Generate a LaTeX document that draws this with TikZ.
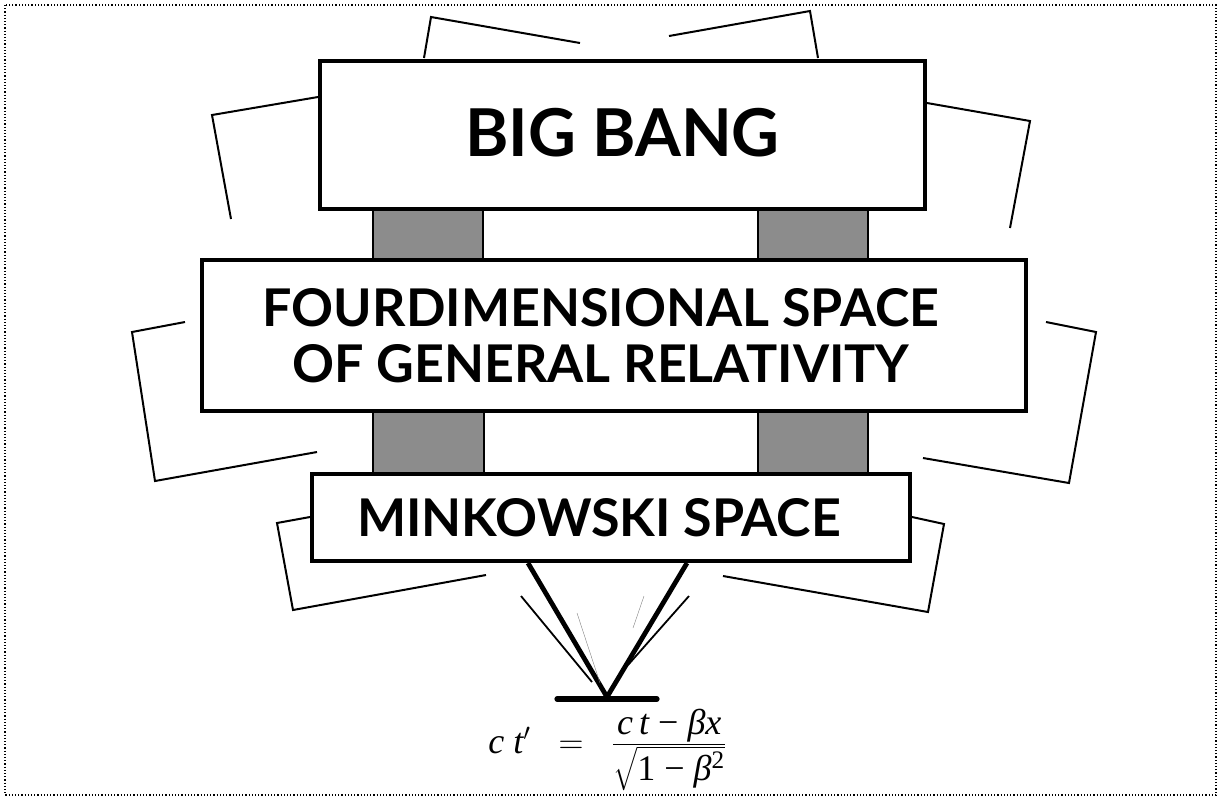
\documentclass[tikz,border=0pt]{standalone}
\usepackage{fontspec}
\usepackage{amsmath}
\setmainfont{Lato}
\newfontfamily\formulafont{Liberation Serif}
\usetikzlibrary{positioning,calc}
\definecolor{pillargray}{HTML}{8C8C8C}

\begin{document}
\begin{tikzpicture}[x=0.5pt,y=-0.5pt,
  signbox/.style={draw,line width=2pt,fill=white,inner sep=0pt,align=center},
  pillar/.style={draw,line width=0.7pt,fill=pillargray},
  panel/.style={line width=1pt},
  leg/.style={line width=2.4pt},
  strut/.style={line width=0.9pt},
  hair/.style={line width=0.2pt,gray}]
\useasboundingbox (0,0) rectangle (1221,800);
\draw[densely dotted,line width=0.6pt] (5,5) rectangle (1216,795);
% tilted panels behind the signs
\draw[panel] (580,43) -- (431,17) -- (424,58);
\draw[panel] (669,36) -- (810,11) -- (818,58);
\draw[panel] (318,97) -- (212,115) -- (231,219);
\draw[panel] (927,103) -- (1030,121) -- (1010,228);
\draw[panel] (185,322) -- (132,332) -- (155,481) -- (317,452);
\draw[panel] (1046,322) -- (1096,332) -- (1069,483) -- (923,458);
\draw[panel] (310,517) -- (277,523) -- (293,610) -- (486,575);
\draw[panel] (912,517) -- (944,524) -- (928,612) -- (723,576);
% posts
\draw[pillar] (373,205) rectangle (483,264);
\draw[pillar] (758,205) rectangle (868,264);
\draw[pillar] (373,405) rectangle (484,478);
\draw[pillar] (758,405) rectangle (868,478);
% signs
\node[signbox,minimum width=302.5pt,minimum height=74pt,font=\bfseries\fontsize{33}{40}\selectfont] (bigbang) at (622.5,135) {\raisebox{2.5pt}{BIG BANG}};
\node[signbox,minimum width=412pt,minimum height=75.5pt,font=\bfseries\fontsize{26}{28}\selectfont] (fourdim) at (614,335.5) {FOURDIMENSIONAL SPACE\hspace*{13pt}\\OF GENERAL RELATIVITY\hspace*{13pt}};
\node[signbox,minimum width=299pt,minimum height=43.5pt,font=\bfseries\fontsize{26}{28}\selectfont] (minkowski) at (611,517.5) {MINKOWSKI SPACE\hspace*{12pt}};
% stand
\coordinate (apex) at (607,697);
\draw[leg] ($(minkowski.south)+(-83,0)$) -- (apex) -- ($(minkowski.south)+(76,0)$);
\draw[strut] (521,596) -- (592,682);
\draw[strut] (689,596) -- (628,665);
\draw[hair] (577,613) -- (600,683);
\draw[hair] (644,596) -- (633,628);
\draw[line width=2.6pt,line cap=round] (557,699) -- (657,699);
\node[anchor=base,font=\formulafont\fontsize{18}{20}\selectfont] (lorentz) at (608,753) {$\mbox{\itshape c t}'\ \ =\ \ \frac{\mbox{\itshape c\,t\ \upshape−\ \itshape βx}}{\sqrt{\mbox{1\ −\ \itshape β\textsuperscript{\upshape 2}}}}$};
\end{tikzpicture}
\end{document}
